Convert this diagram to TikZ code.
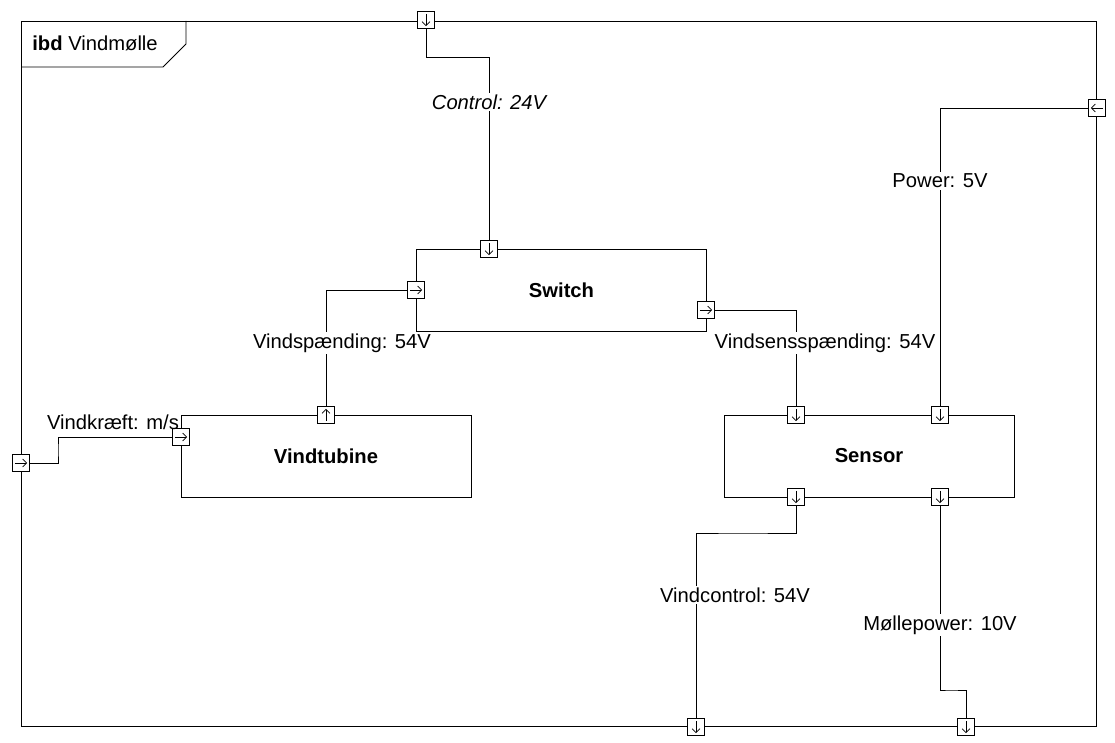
\documentclass[tikz,border=0pt]{standalone}
\usepackage{fontspec}
\setmainfont{Liberation Sans}
\usepackage{tikz}
\usetikzlibrary{arrows.meta,positioning}
\newcommand{\lbfont}{\fontsize{11.5}{13}\selectfont}
\tikzset{
  BK/.style={rectangle,draw,fill=white,line width=0.5pt,
             minimum width=5.8cm,minimum height=1.64cm,
             text centered,font=\lbfont\bfseries},
  PT/.style={rectangle,draw,fill=white,line width=0.5pt,
             minimum size=0.35cm,inner sep=0pt},
  pD/.style={PT,path picture={\draw[line width=0.45pt,-{Straight Barb[length=2.2pt,width=4.5pt]}]
             ([yshift=-1.5pt]path picture bounding box.north) -- ([yshift=1.5pt]path picture bounding box.south);}},
  pU/.style={PT,path picture={\draw[line width=0.45pt,-{Straight Barb[length=2.2pt,width=4.5pt]}]
             ([yshift=1.5pt]path picture bounding box.south) -- ([yshift=-1.5pt]path picture bounding box.north);}},
  pR/.style={PT,path picture={\draw[line width=0.45pt,-{Straight Barb[length=2.2pt,width=4.5pt]}]
             ([xshift=1.5pt]path picture bounding box.west) -- ([xshift=-1.5pt]path picture bounding box.east);}},
  pL/.style={PT,path picture={\draw[line width=0.45pt,-{Straight Barb[length=2.2pt,width=4.5pt]}]
             ([xshift=-1.5pt]path picture bounding box.east) -- ([xshift=1.5pt]path picture bounding box.west);}},
  LB/.style={fill=white,inner sep=1pt},
  ln/.style={line width=0.5pt}
}

\begin{document}
\begin{tikzpicture}[x=0.02cm,y=-0.02cm,every node/.style={font=\lbfont}]
  \useasboundingbox (0,0) rectangle (1115,743);
  % frame
  \node[draw,line width=0.5pt,minimum width=21.52cm,minimum height=14.12cm,inner sep=0pt] (frame) at (559,374) {};
  \draw[ln] (21,67) -- (163,67) -- (186,44) -- (186,21);
  \node[anchor=west,inner sep=0pt] (ttl) at (32,43) {\textbf{ibd} Vindmølle};

  % blocks
  \node[BK] (sw) at (561.5,290) {Switch};
  \node[BK] (vt) at (326,456) {Vindtubine};
  \node[BK] (se) at (869,456) {Sensor};

  % ports
  \node[pD] (fTop) at (426,20) {};
  \node[pL] (fR) at (1097,108) {};
  \node[pR] (fL) at (21,463) {};
  \node[pD] (fB1) at (696,727) {};
  \node[pD] (fB2) at (966,727) {};
  \node[pD] (swT) at (489,249) {};
  \node[pR] (swL) at (416,290) {};
  \node[pR] (swR) at (706,310) {};
  \node[pU] (vtT) at (326,415) {};
  \node[pR] (vtL) at (181,437) {};
  \node[pD] (seT1) at (796,415) {};
  \node[pD] (seT2) at (940,415) {};
  \node[pD] (seB1) at (796,497) {};
  \node[pD] (seB2) at (940,497) {};

  % bend points
  \coordinate (k1) at (489,57);
  \coordinate (k2) at (58,450);
  \coordinate (k3) at (740,533);
  \coordinate (k4) at (950,690);

  % connectors
  \draw[ln] (fTop) |- (k1) -- (swT);
  \draw[ln] (swL) -| (vtT);
  \draw[ln] (fL) -| (k2) |- (vtL);
  \draw[ln] (swR) -| (seT1);
  \draw[ln] (fR) -| (seT2);
  \draw[ln] (seB1) |- (k3) -| (fB1);
  \draw[ln] (seB2) |- (k4) -| (fB2);

  % labels
  \node[LB,font=\lbfont\itshape] (lCtl) at (489,102) {Control: 24V};
  \node[LB] (lVsp) at (342,343) {Vindspænding: 54V};
  \node[inner sep=0pt] (lVkr) at (113,422) {Vindkræft: m/s};
  \node[LB] (lVss) at (825,343) {Vindsensspænding: 54V};
  \node[LB] (lPow) at (940,181) {Power: 5V};
  \node[LB] (lVct) at (735,595) {Vindcontrol: 54V};
  \node[LB] (lMp) at (940,625) {Møllepower: 10V};
\end{tikzpicture}
\end{document}
